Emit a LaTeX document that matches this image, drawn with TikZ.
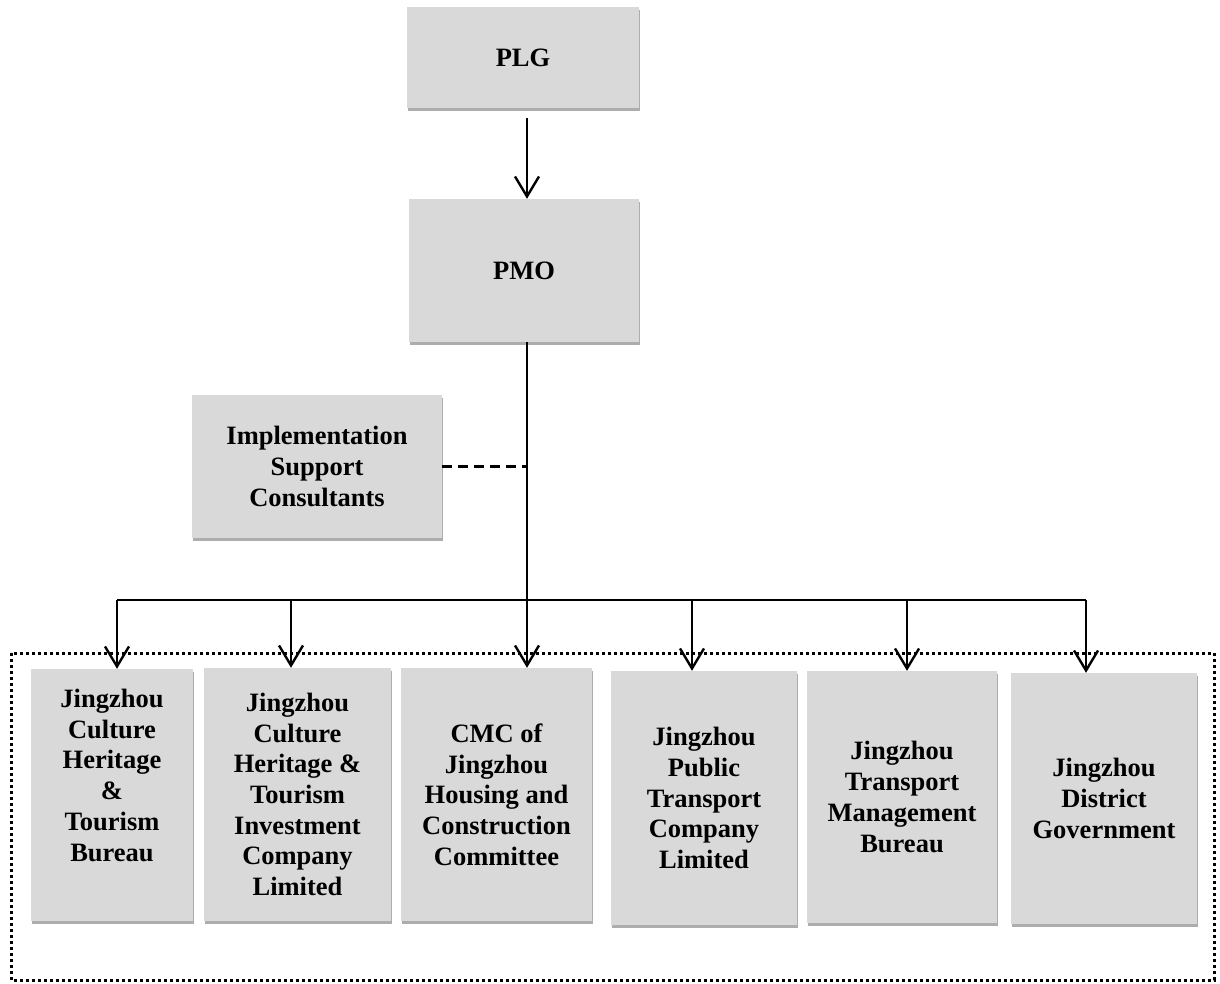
\documentclass[tikz,border=0pt]{standalone}
\usepackage{fontspec}
\setmainfont{Liberation Serif}
\usetikzlibrary{arrows.meta,shadows}
\definecolor{boxgray}{RGB}{217,217,217}
\tikzset{
  orgbox/.style={rectangle, fill=boxgray, draw=none, align=center, inner sep=0pt,
    font=\bfseries\fontsize{26.5}{30.7}\selectfont,
    drop shadow={shadow xshift=0.5pt, shadow yshift=-3pt, opacity=0.4, fill=black!80}},
  link/.style={line width=2.4pt, draw=black},
  arr/.style={link, -{Straight Barb[length=20pt,width=24pt,line width=2.4pt]}},
  dashlink/.style={link, dash pattern=on 10pt off 6pt},
  groupframe/.style={draw=black, line width=3pt, dash pattern=on 3pt off 3pt}
}
\begin{document}
\begin{tikzpicture}[x=1pt,y=-1pt]
\useasboundingbox (0,0) rectangle (1220,983);
\fill[white] (0,0) rectangle (1220,983);

\node[orgbox, minimum width=232pt, minimum height=101pt] (plg) at (523,57.5) {PLG};
\node[orgbox, minimum width=230pt, minimum height=143pt] (pmo) at (524,270.5) {PMO};
\node[orgbox, minimum width=250pt, minimum height=143pt] (isc) at (317,466.5) {Implementation\\Support\\Consultants};

\draw[groupframe] (11,653) rectangle (1214,980);

\node[orgbox, minimum width=162pt, minimum height=252pt] (b1) at (112,795) {Jingzhou\\Culture\\Heritage\\\&\\Tourism\\Bureau\\\strut};
\node[orgbox, minimum width=187pt, minimum height=253pt] (b2) at (297.5,794.5) {Jingzhou\\Culture\\Heritage \&\\Tourism\\Investment\\Company\\Limited};
\node[orgbox, minimum width=191pt, minimum height=253pt] (b3) at (496.5,794.5) {CMC of\\Jingzhou\\Housing and\\Construction\\Committee};
\node[orgbox, minimum width=186pt, minimum height=254pt] (b4) at (704,798) {Jingzhou\\Public\\Transport\\Company\\Limited};
\node[orgbox, minimum width=190pt, minimum height=252pt] (b5) at (902,797) {Jingzhou\\Transport\\Management\\Bureau};
\node[orgbox, minimum width=186pt, minimum height=251pt] (b6) at (1104,798.5) {Jingzhou\\District\\Government};

\coordinate (cx) at (527,0);
\coordinate (j1) at (117,600);
\coordinate (j2) at (291,600);
\coordinate (j3) at (527,600);
\coordinate (j4) at (692,600);
\coordinate (j5) at (907,600);
\coordinate (j6) at (1086,600);
\coordinate (dj) at (527,466.5);

\draw[arr, shorten <=10pt] (plg.south -| cx) -- (pmo.north -| cx);
\draw[link] (pmo.south -| cx) -- (j3);
\draw[link] (j1) -- (j6);
\draw[dashlink] (isc.east |- dj) -- (dj);

\draw[arr] (j1) -- (j1 |- b1.north);
\draw[arr] (j2) -- (j2 |- b2.north);
\draw[arr] (j3) -- (j3 |- b3.north);
\draw[arr] (j4) -- (j4 |- b4.north);
\draw[arr] (j5) -- (j5 |- b5.north);
\draw[arr] (j6) -- (j6 |- b6.north);
\end{tikzpicture}
\end{document}
